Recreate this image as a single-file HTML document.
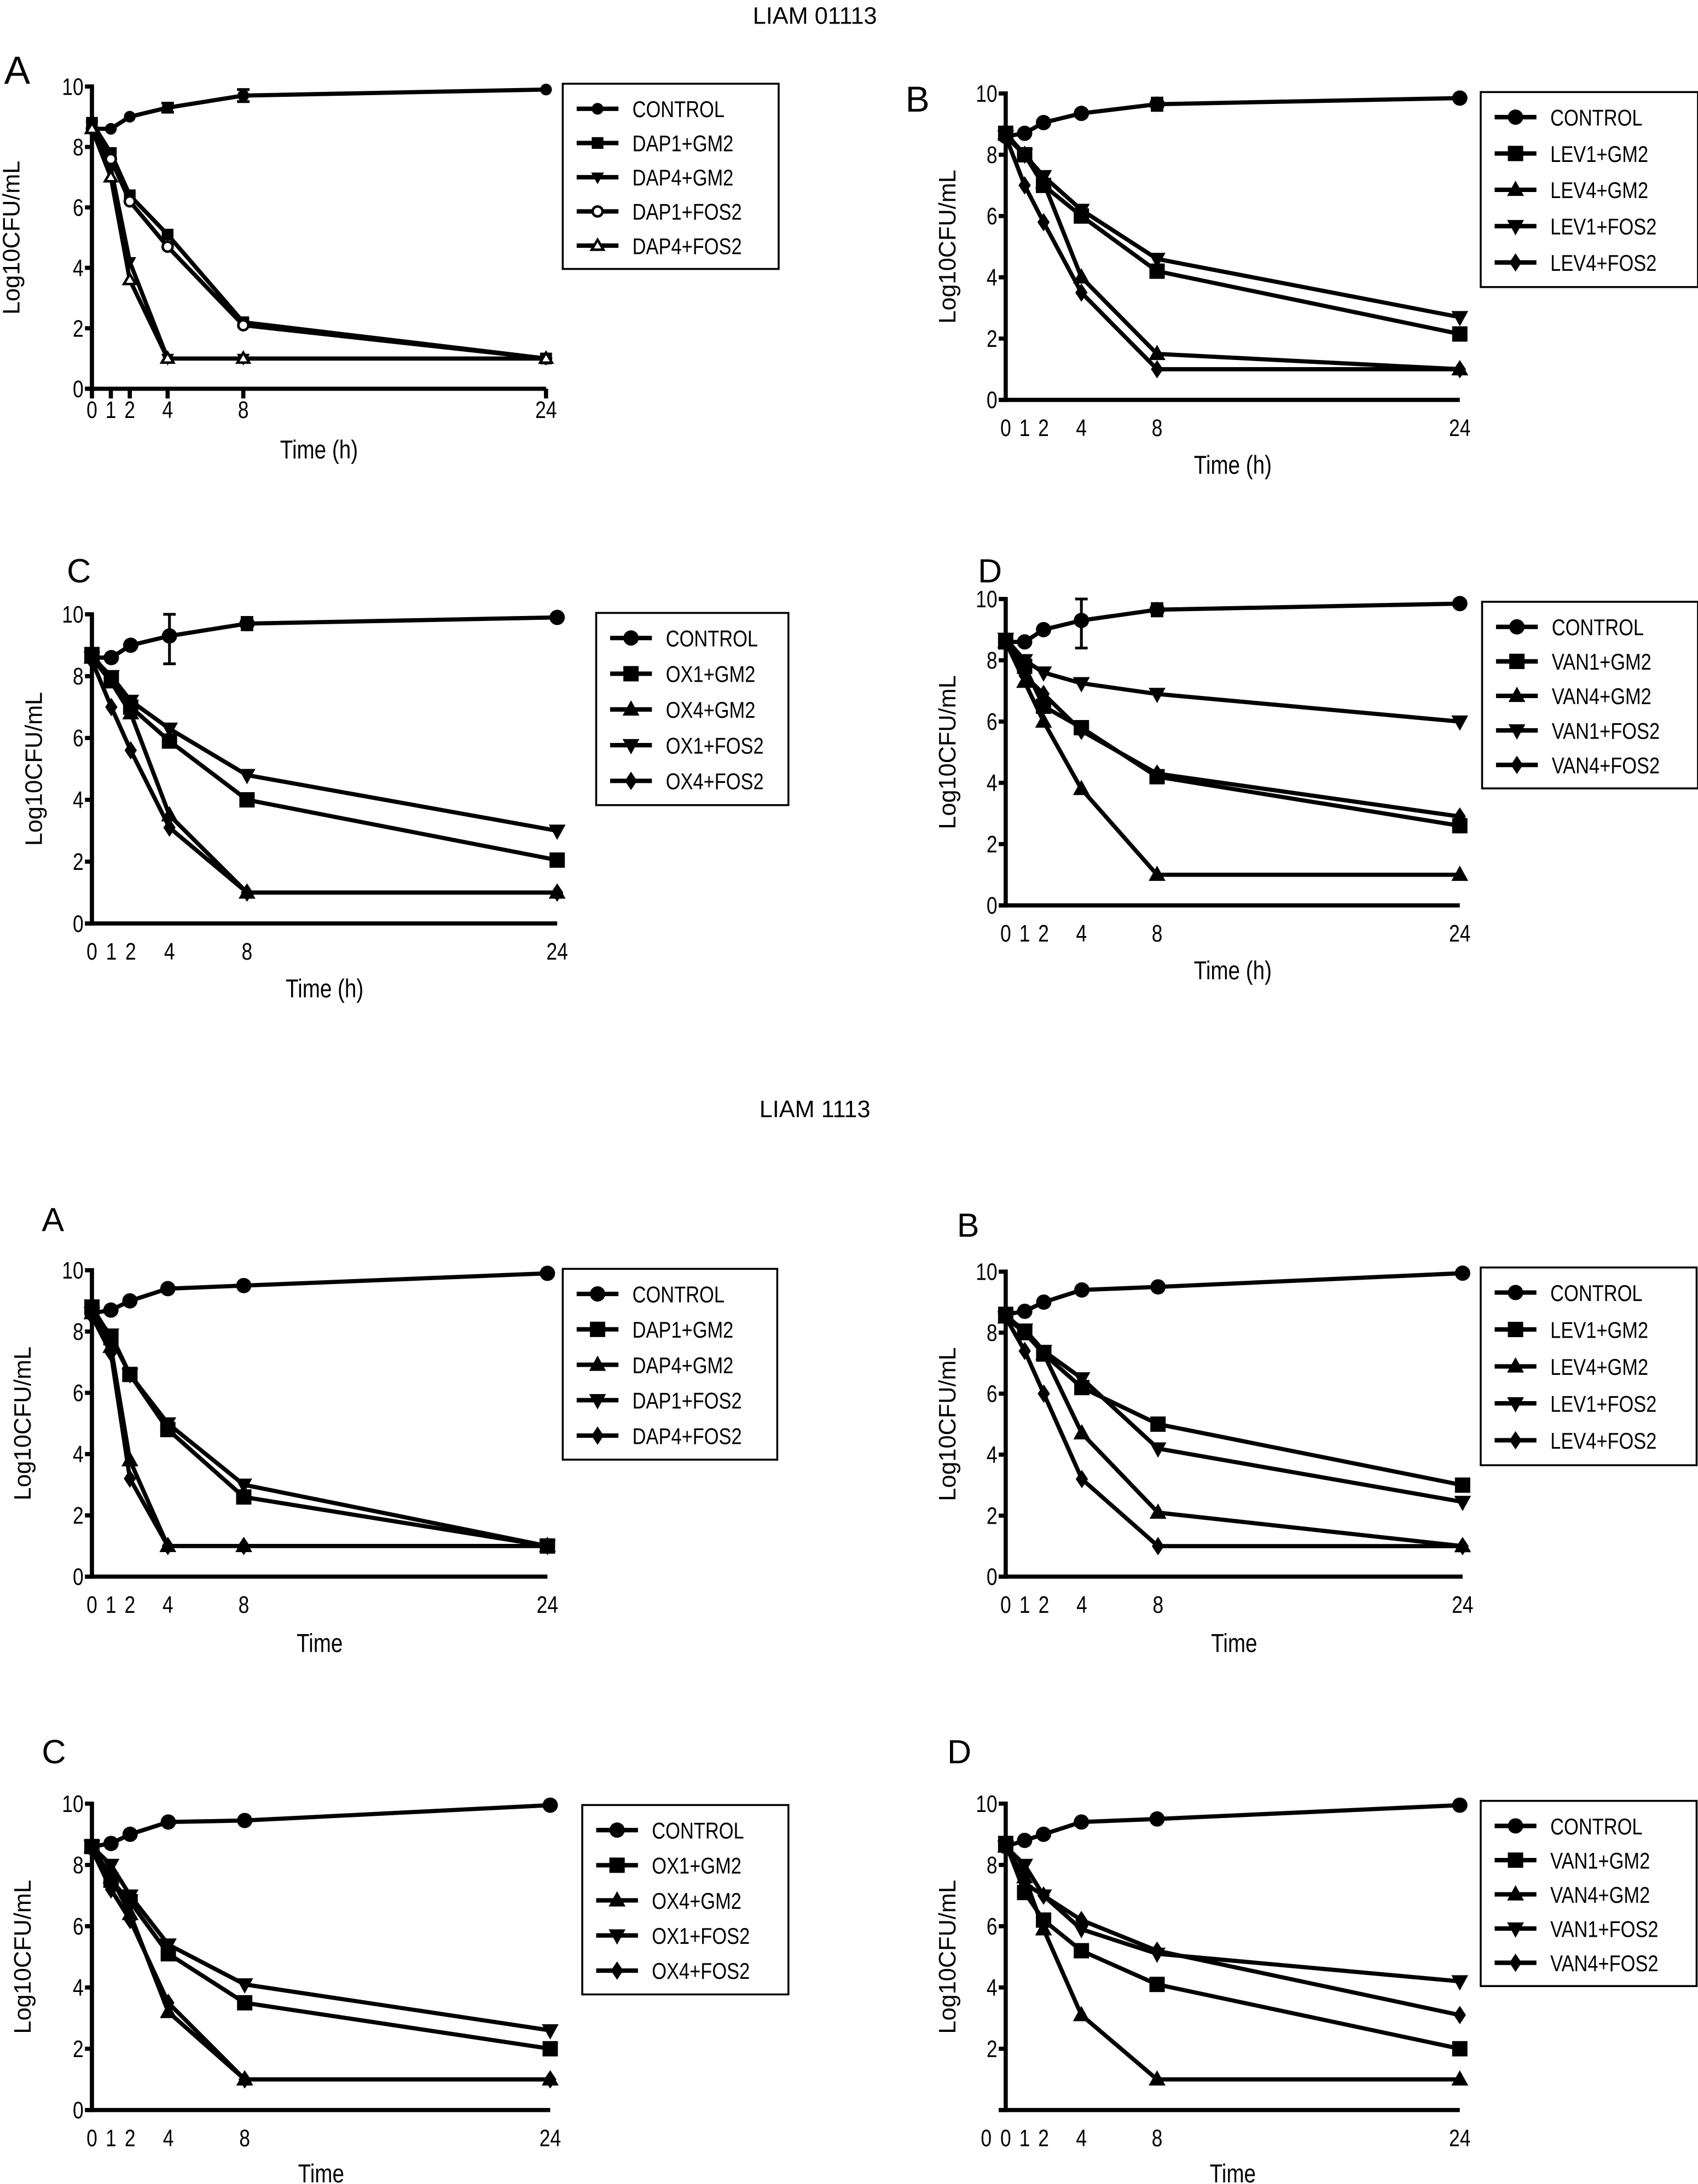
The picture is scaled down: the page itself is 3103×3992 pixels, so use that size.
<!DOCTYPE html>
<html><head><meta charset="utf-8"><style>
html,body{margin:0;padding:0;background:#fff;}
svg{display:block;font-family:"Liberation Sans",sans-serif;}
</style></head><body>
<svg id="fig" xmlns="http://www.w3.org/2000/svg" width="3103" height="3992" viewBox="0 0 1219 1568">
<rect width="1219" height="1568" fill="#fff"/>
<text x="585" y="17" text-anchor="middle" font-size="17">LIAM 01113</text>
<text x="585" y="802" text-anchor="middle" font-size="17">LIAM 1113</text>
</svg>
<script>
const hours = [0,1,2,4,8,24];
const xTickLabels = ["0","1","2","4","8","24"];
const yTickValues = [0,2,4,6,8,10];

// Top (LIAM 01113) panel A
const tA_ctrl = [8.6,8.6,9.0,9.3,9.7,9.9];
const tA_s1 = [8.8,7.8,6.4,5.1,2.2,1.0];
const tA_s2 = [8.7,7.3,4.2,1.0,1.0,1.0];
const tA_s3 = [8.6,7.6,6.2,4.7,2.1,1.0];
const tA_s4 = [8.6,7.0,3.6,1.0,1.0,1.0];
const tA_labels = ["CONTROL","DAP1+GM2","DAP4+GM2","DAP1+FOS2","DAP4+FOS2"];
// Top B
const tB_ctrl = [8.6,8.7,9.05,9.35,9.65,9.85];
const tB_s1 = [8.7,8.0,7.0,6.0,4.2,2.15];
const tB_s2 = [8.7,8.0,7.1,4.0,1.5,1.0];
const tB_s3 = [8.6,8.0,7.3,6.2,4.6,2.7];
const tB_s4 = [8.6,7.0,5.8,3.5,1.0,1.0];
const tB_labels = ["CONTROL","LEV1+GM2","LEV4+GM2","LEV1+FOS2","LEV4+FOS2"];
// Top C
const tC_ctrl = [8.6,8.6,9.0,9.3,9.7,9.9];
const tC_s1 = [8.7,7.9,7.0,5.9,4.0,2.05];
const tC_s2 = [8.6,7.8,6.8,3.5,1.0,1.0];
const tC_s3 = [8.6,8.0,7.2,6.3,4.8,3.0];
const tC_s4 = [8.5,7.0,5.6,3.1,1.0,1.0];
const tC_labels = ["CONTROL","OX1+GM2","OX4+GM2","OX1+FOS2","OX4+FOS2"];
// Top D
const tD_ctrl = [8.6,8.6,9.0,9.3,9.65,9.85];
const tD_s1 = [8.6,7.8,6.5,5.8,4.2,2.6];
const tD_s2 = [8.6,7.3,6.0,3.8,1.0,1.0];
const tD_s3 = [8.7,8.0,7.6,7.25,6.9,6.0];
const tD_s4 = [8.6,7.5,6.9,5.7,4.3,2.9];
const tD_labels = ["CONTROL","VAN1+GM2","VAN4+GM2","VAN1+FOS2","VAN4+FOS2"];
// Bottom (LIAM 1113) A
const bA_ctrl = [8.6,8.7,9.0,9.4,9.5,9.9];
const bA_s1 = [8.8,7.8,6.6,4.8,2.6,1.0];
const bA_s2 = [8.6,7.5,3.8,1.0,1.0,1.0];
const bA_s3 = [8.6,7.9,6.6,5.0,3.0,1.0];
const bA_s4 = [8.5,7.3,3.2,1.0,1.0,1.0];
// Bottom B
const bB_ctrl = [8.6,8.7,9.0,9.4,9.5,9.95];
const bB_s1 = [8.6,8.0,7.3,6.2,5.0,3.0];
const bB_s2 = [8.5,8.0,7.3,4.7,2.1,1.0];
const bB_s3 = [8.5,8.1,7.4,6.5,4.2,2.45];
const bB_s4 = [8.5,7.4,6.0,3.2,1.0,1.0];
// Bottom C
const bC_ctrl = [8.6,8.7,9.0,9.4,9.45,9.95];
const bC_s1 = [8.6,7.5,6.8,5.1,3.5,2.0];
const bC_s2 = [8.6,7.6,6.4,3.2,1.0,1.0];
const bC_s3 = [8.6,8.0,7.0,5.4,4.1,2.6];
const bC_s4 = [8.5,7.2,6.2,3.5,1.0,1.0];
// Bottom D
const bD_ctrl = [8.6,8.8,9.0,9.4,9.5,9.95];
const bD_s1 = [8.7,7.1,6.2,5.2,4.1,2.0];
const bD_s2 = [8.6,7.6,5.9,3.1,1.0,1.0];
const bD_s3 = [8.6,8.0,7.0,5.9,5.1,4.2];
const bD_s4 = [8.6,7.4,7.0,6.2,5.2,3.1];
// error bars [hourIndex, low, high]
const tA_err = [[3,9.15,9.45],[4,9.5,9.9]];
const tB_err = [[4,9.45,9.85]];
const tC_err = [[3,8.4,10.0],[4,9.5,9.9]];
const tD_err = [[3,8.4,10.0],[4,9.45,9.85]];

const NS="http://www.w3.org/2000/svg";
const svg=document.getElementById('fig');
function mk(tag,attrs,parent){const e=document.createElementNS(NS,tag);for(const k in attrs)e.setAttribute(k,attrs[k]);(parent||svg).appendChild(e);return e;}
function ctext(parent,x,y,str,size,anchor){
  const g=mk('g',{transform:`translate(${x},${y}) scale(0.82,1)`},parent);
  const t=mk('text',{x:0,y:0,'font-size':size,'text-anchor':anchor||'start'},g);
  t.textContent=str;return g;
}
function marker(parent,type,x,y,s){
  let e;
  if(type==='circle') e=mk('circle',{cx:x,cy:y,r:s,fill:'#000'},parent);
  else if(type==='ocircle') e=mk('circle',{cx:x,cy:y,r:s*0.85,fill:'#fff',stroke:'#000','stroke-width':1.8},parent);
  else if(type==='square') e=mk('rect',{x:x-s,y:y-s,width:2*s,height:2*s,fill:'#000'},parent);
  else if(type==='up') e=mk('polygon',{points:`${x},${y-s*1.2} ${x-s*1.1},${y+s*0.8} ${x+s*1.1},${y+s*0.8}`,fill:'#000'},parent);
  else if(type==='oup') e=mk('polygon',{points:`${x},${y-s} ${x-s},${y+s*0.7} ${x+s},${y+s*0.7}`,fill:'#fff',stroke:'#000','stroke-width':1.8},parent);
  else if(type==='down') e=mk('polygon',{points:`${x},${y+s*1.2} ${x-s*1.1},${y-s*0.8} ${x+s*1.1},${y-s*0.8}`,fill:'#000'},parent);
  else e=mk('polygon',{points:`${x},${y-s*1.2} ${x+s*0.8},${y} ${x},${y+s*1.2} ${x-s*0.8},${y}`,fill:'#000'},parent);
  return e;
}
const panels=[
 {id:'top-a',letter:'A',lx:3,ly:60,lsize:28,x0:66,x24:392,y10:62,y0:279,tickY:300,title:'Time (h)',titleY:329,ylabX:14,
  series:[tA_ctrl,tA_s1,tA_s2,tA_s3,tA_s4],labels:tA_labels,markers:['circle','square','down','ocircle','oup'],ms:4.2,err:tA_err,xticks:true,
  leg:[404,60,155,133]},
 {id:'top-b',letter:'B',lx:650,ly:80,lsize:26,x0:722,x24:1048,y10:67,y0:287,tickY:313,title:'Time (h)',titleY:340,ylabX:686,
  series:[tB_ctrl,tB_s1,tB_s2,tB_s3,tB_s4],labels:tB_labels,markers:['circle','square','up','down','diamond'],ms:5.5,err:tB_err,
  leg:[1063,66,156,140]},
 {id:'top-c',letter:'C',lx:48,ly:418,lsize:24,x0:66,x24:400,y10:441,y0:663,tickY:689,title:'Time (h)',titleY:716,ylabX:30,
  series:[tC_ctrl,tC_s1,tC_s2,tC_s3,tC_s4],labels:tC_labels,markers:['circle','square','up','down','diamond'],ms:5.5,err:tC_err,
  leg:[428,440,138,138]},
 {id:'top-d',letter:'D',lx:702,ly:418,lsize:24,x0:722,x24:1048,y10:430,y0:650,tickY:676,title:'Time (h)',titleY:703,ylabX:686,
  series:[tD_ctrl,tD_s1,tD_s2,tD_s3,tD_s4],labels:tD_labels,markers:['circle','square','up','down','diamond'],ms:5.5,err:tD_err,
  leg:[1064,432,155,134]},
 {id:'bottom-a',letter:'A',lx:30,ly:884,lsize:24,x0:66,x24:393,y10:912,y0:1132,tickY:1158,title:'Time',titleY:1186,ylabX:22,
  series:[bA_ctrl,bA_s1,bA_s2,bA_s3,bA_s4],labels:tA_labels,markers:['circle','square','up','down','diamond'],ms:5.5,err:[],
  leg:[404,911,154,137]},
 {id:'bottom-b',letter:'B',lx:687,ly:888,lsize:24,x0:722,x24:1050,y10:913,y0:1132,tickY:1158,title:'Time',titleY:1186,ylabX:686,
  series:[bB_ctrl,bB_s1,bB_s2,bB_s3,bB_s4],labels:tB_labels,markers:['circle','square','up','down','diamond'],ms:5.5,err:[],
  leg:[1063,910,155,142]},
 {id:'bottom-c',letter:'C',lx:30,ly:1266,lsize:24,x0:66,x24:395,y10:1295,y0:1515,tickY:1541,title:'Time',titleY:1567,ylabX:22,
  series:[bC_ctrl,bC_s1,bC_s2,bC_s3,bC_s4],labels:tC_labels,markers:['circle','square','up','down','diamond'],ms:5.5,err:[],
  leg:[418,1296,148,136]},
 {id:'bottom-d',letter:'D',lx:680,ly:1266,lsize:24,x0:722,x24:1048,y10:1295,y0:1515,tickY:1541,title:'Time',titleY:1567,ylabX:686,
  series:[bD_ctrl,bD_s1,bD_s2,bD_s3,bD_s4],labels:tD_labels,markers:['circle','square','up','down','diamond'],ms:5.5,err:[],noY0:true,
  leg:[1063,1293,155,133]}
];
panels.forEach(p=>{
  const g=mk('g',{});
  
  
  const xs=h=>p.x0+(p.x24-p.x0)*h/24;
  const ys=v=>p.y0-(p.y0-p.y10)*v/10;
  const let_=mk('text',{x:p.lx,y:p.ly,'font-size':p.lsize},g);
  
  
  let_.textContent=p.letter;
  const ax=mk('g',{stroke:'#000','stroke-width':3,fill:'none'},g);
  
  
  mk('line',{x1:p.x0,y1:p.y10-1.5,x2:p.x0,y2:p.y0+1.5},ax);
  mk('line',{x1:p.x0-5,y1:p.y0,x2:p.x24,y2:p.y0},ax);
  yTickValues.forEach(v=>{
    mk('line',{x1:p.x0-5,y1:ys(v),x2:p.x0,y2:ys(v)},ax);
    if(p.noY0&&v===0) return;
    const t=ctext(g,p.x0-6,ys(v)+6,String(v),17,'end');
    
    
  });
  if(p.noY0){const t=ctext(g,p.x0-14,p.tickY,'0',17,'middle');}
  hours.forEach((h,i)=>{
    if(p.xticks) mk('line',{x1:xs(h),y1:p.y0,x2:xs(h),y2:p.y0+7},ax);
    const t=ctext(g,xs(h),p.tickY,xTickLabels[i],17,'middle');
    
    
  });
  const xt=ctext(g,(p.x0+p.x24)/2,p.titleY,p.title,18.5,'middle');
  
  
  const yl=mk('text',{x:0,y:0,'font-size':17,'text-anchor':'middle',transform:`translate(${p.ylabX},${(p.y0+p.y10)/2}) rotate(-90)`},g);
  
  
  yl.textContent='Log10CFU/mL';
  p.series.forEach((vals,si)=>{
    const sg=mk('g',{},g);
    
    
    const pts=vals.map((v,i)=>xs(hours[i])+','+ys(v)).join(' ');
    mk('polyline',{points:pts,fill:'none',stroke:'#000','stroke-width':3,'stroke-linejoin':'round'},sg);
    vals.forEach((v,i)=>{
      const m=marker(sg,p.markers[si],xs(hours[i]),ys(v),p.ms);
      
      
    });
  });
  p.err.forEach(e=>{
    const x=xs(hours[e[0]]);
    const eg=mk('g',{stroke:'#000','stroke-width':2},g);
    
    
    mk('line',{x1:x,y1:ys(e[1]),x2:x,y2:ys(e[2])},eg);
    mk('line',{x1:x-4.5,y1:ys(e[1]),x2:x+4.5,y2:ys(e[1])},eg);
    mk('line',{x1:x-4.5,y1:ys(e[2]),x2:x+4.5,y2:ys(e[2])},eg);
  });
  const [lx,ly,lw,lh]=p.leg;
  const lg=mk('g',{},g);
  
  
  mk('rect',{x:lx,y:ly,width:lw,height:lh,fill:'#fff',stroke:'#000','stroke-width':1.4},lg);
  const step=(lh-20)/4.6;
  p.labels.forEach((lab,i)=>{
    const cy=ly+14+i*step+4;
    const eg=mk('g',{},lg);
    
    
    mk('line',{x1:lx+10,y1:cy,x2:lx+40,y2:cy,stroke:'#000','stroke-width':3.2},eg);
    marker(eg,p.markers[i],lx+25,cy,p.ms);
    ctext(eg,lx+50,cy+6,lab,16.5,'start');
  });
});
</script>
</body></html>
